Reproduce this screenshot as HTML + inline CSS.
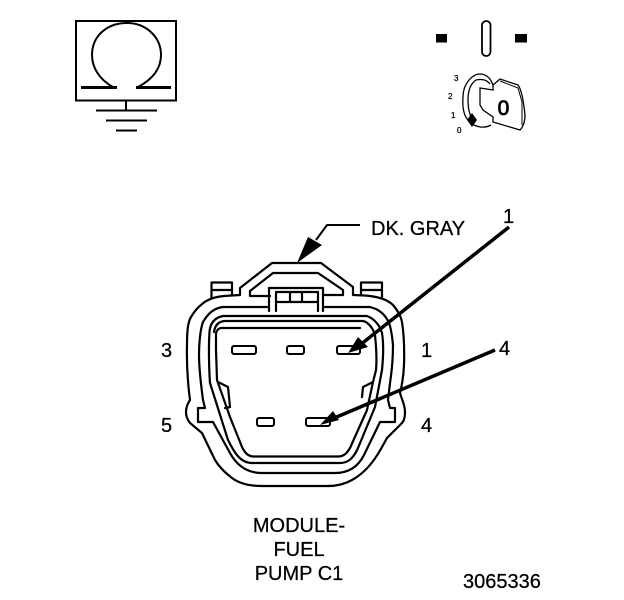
<!DOCTYPE html>
<html><head><meta charset="utf-8"><style>
html,body{margin:0;padding:0;background:#fff}
svg{display:block}
text{font-family:"Liberation Sans",sans-serif;fill:#000;stroke:#000;stroke-width:.25}
.l{fill:none;stroke:#000;stroke-width:2.2;stroke-linejoin:round;stroke-linecap:round}
</style></head><body>
<svg width="624" height="600" viewBox="0 0 624 600" xmlns="http://www.w3.org/2000/svg">
<!-- ohm box -->
<rect x="76" y="21" width="100" height="79.500" fill="none" stroke="#000" stroke-width="2"/>
<path d="M113 87C100 80 92 68 92 55C92 36 107 23 127 23C146 23 161 37 161 55C161 68 153 79 138 87" fill="none" stroke="#000" stroke-width="2"/>
<path d="M81 87.500H117M136 87.500H171" stroke="#000" stroke-width="3" fill="none"/>
<path d="M126 100V110" stroke="#000" stroke-width="2"/>
<path d="M96 110.500H157M106 120.500H147M116 130.500H137" stroke="#000" stroke-width="2"/>
<!-- key switch -->
<rect x="436" y="34" width="11" height="8.500"/>
<rect x="515" y="34" width="12" height="8.500"/>
<rect x="482" y="21" width="8.500" height="35" rx="4.200" fill="none" stroke="#000" stroke-width="1.800"/>
<path d="M493 85C490 77 485 74 480 74C472 74 463 84 463 97C462 110 465 118 470 122C475 127 484 129 491 125" fill="none" stroke="#000" stroke-width="1.300"/>
<path d="M490 84C486 79 481 79 476 80C470 84 468 92 468 100C468 110 470 116 473 120" fill="none" stroke="#000" stroke-width="1.300"/>
<path d="M480 88L493 90L493 85L500 79L518 85C522 90 524 105 525 115C525 122 523 127 520 130L493 122V117L483 110L480 105Z" fill="#fff" stroke="#000" stroke-width="1.300"/>
<path d="M500 81L518 88L522 102V125" fill="none" stroke="#000" stroke-width="1"/>
<text x="503.500" y="115" font-size="21" text-anchor="middle" style="stroke-width:.8">0</text>
<path d="M467 120L472 113L477 120L472 127Z"/>
<text x="454" y="81" font-size="8">3</text>
<text x="448" y="99" font-size="8">2</text>
<text x="451" y="118" font-size="8">1</text>
<text x="457" y="133" font-size="8">0</text>
<!-- DK GRAY leader -->
<path d="M360 225H327L316 240" fill="none" stroke="#000" stroke-width="2"/>
<path d="M297 263L308 237L322 245Z"/>
<text x="371" y="235" font-size="20">DK. GRAY</text>
<!-- ear tabs -->
<path class="l" d="M211.500 298V282.500H232V295M211.500 290H232"/>
<path class="l" d="M361 294V282.500H382V298M361 290H382"/>
<!-- outer shell -->
<path class="l" d="M272 263H321L353 287V295L365 295.500C378 296.500 388 300 393 305C398 311 401 316 402 322C404 335 404.500 350 404 365C403.500 378 402 385 400 393C402 400 405 405 405 412C405 418 404 421 402 423L393 432L387 438L382 447C375 460 365 473 352 480C345 484 338 486 328 486H262C250 486 240 484 232 478C224 472 218 465 215 460L202 433L190 423Q186 418 186 412Q186 406 190 400C188 385 186.500 365 187 345C187 330 188 322 191 317C194 312 197 308 201 305C206 300 214 297 224 296L240 295V288Z"/>
<!-- second contour -->
<path class="l" d="M267 307H223C213 308 207 315 203 322C200 330 199 345 199 355C199 370 201 385 203 400L205 408H198V422H213L230 453C236 464 246 473 262 473H335C350 473 359 465 364 455L380 422H395V408H390L388 400L390 383C392 370 393 355 393 345C392 335 391 328 389 323C386 316 382 312 376 309L370 307H325"/>
<!-- third contour -->
<path class="l" d="M223 316H367C375 319 380 326 382 333C384 345 383 360 382 370L375 407L358 448C354 457 349 463 340 463H252C240 463 234 452 228 440L210 383C209 370 208.500 345 209.500 332C210 325 213 318 223 316Z"/>
<!-- cavity -->
<path class="l" d="M214 332C215 325 219 321 226 321H363C368 322 373 328 375 335C376 345 377 360 376 370L373 382L367 410L350 448C347 453 344 456.500 338 456.500H254C248 456.500 245 453 242 447L230 417L217 380L216 350V335C216 331 218 328 222 328H360"/>
<path class="l" d="M218 382L228 387L230 407L225 408M373 382L363 387L362 397"/>
<!-- latch window -->
<path class="l" d="M270 296H250V291L273 273H318L343 290V295H323"/>
<path class="l" d="M269 311V288H323V311M276 311V292H318V311M276 302H290V293M318 302H302V293M290 302H302"/>
<!-- terminals -->
<rect x="232" y="346" width="24" height="8" rx="2" fill="#fff" stroke="#000" stroke-width="2"/>
<rect x="287" y="346" width="17" height="8" rx="2" fill="#fff" stroke="#000" stroke-width="2"/>
<rect x="337" y="346" width="23" height="8" rx="2" fill="#fff" stroke="#000" stroke-width="2"/>
<rect x="257" y="418" width="17" height="8" rx="2" fill="#fff" stroke="#000" stroke-width="2"/>
<rect x="306" y="418" width="24" height="8" rx="2" fill="#fff" stroke="#000" stroke-width="2"/>
<!-- arrows -->
<path d="M509 227L360 345" stroke="#000" stroke-width="3.500"/>
<path d="M348 353L358 337L368 347Z"/>
<path d="M495 350L332 419" stroke="#000" stroke-width="3.500"/>
<path d="M320 425L333 411L339 420Z"/>
<!-- labels -->
<text x="503" y="223" font-size="20">1</text>
<text x="499" y="355" font-size="20">4</text>
<text x="161" y="357" font-size="20">3</text>
<text x="421" y="357" font-size="20">1</text>
<text x="161" y="432" font-size="20">5</text>
<text x="421" y="432" font-size="20">4</text>
<text x="299" y="532" font-size="20" text-anchor="middle">MODULE-</text>
<text x="299" y="556" font-size="20" text-anchor="middle">FUEL</text>
<text x="299" y="580" font-size="20" text-anchor="middle">PUMP C1</text>
<text x="463" y="588" font-size="20">3065336</text>
</svg>
</body></html>
